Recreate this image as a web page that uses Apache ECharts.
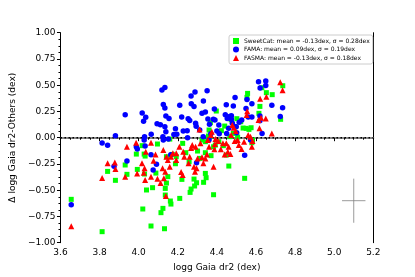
<!DOCTYPE html>
<html><head><meta charset="utf-8">
<script src="https://cdn.jsdelivr.net/npm/echarts@6/dist/echarts.min.js"></script>
<style>html,body{margin:0;padding:0;background:#fff}#c{width:415px;height:277px}</style>
</head><body><div id="c"></div>
<script>
const xTicks = [3.6, 3.8, 4.0, 4.2, 4.4, 4.6, 4.8, 5.0, 5.2];
const yTicks = [-1.0, -0.75, -0.5, -0.25, 0, 0.25, 0.5, 0.75, 1.0];
const seriesNames = ['SweetCat: mean = -0.13dex, \u03c3 = 0.28dex', 'FAMA: mean = 0.09dex, \u03c3 = 0.19dex', 'FASMA: mean = -0.13dex, \u03c3 = 0.18dex'];
const sweetcat = [[3.655,-0.587],[3.813,-0.895],[3.841,-0.321],[3.881,-0.406],[3.931,-0.260],[3.940,-0.349],[3.988,-0.156],[3.993,-0.302],[4.018,-0.076],[4.021,-0.679],[4.028,-0.156],[4.033,-0.175],[4.030,-0.346],[4.040,-0.498],[4.063,-0.841],[4.071,-0.476],[4.088,-0.337],[4.096,-0.060],[4.114,-0.714],[4.124,-0.673],[4.132,-0.867],[4.136,-0.483],[4.136,-0.546],[4.142,-0.432],[4.149,-0.371],[4.162,-0.603],[4.165,-0.632],[4.142,-0.181],[4.159,-0.013],[4.172,-0.159],[4.188,-0.248],[4.192,-0.181],[4.210,-0.578],[4.221,-0.397],[4.225,-0.054],[4.241,-0.143],[4.258,-0.229],[4.263,-0.521],[4.268,-0.489],[4.283,-0.394],[4.286,-0.460],[4.296,-0.429],[4.301,-0.127],[4.314,-0.197],[4.332,-0.425],[4.341,-0.340],[4.345,-0.381],[4.341,-0.143],[4.357,0.016],[4.360,0.073],[4.367,0.143],[4.370,-0.171],[4.383,-0.543],[4.392,-0.070],[4.397,0.254],[4.410,-0.038],[4.423,0.067],[4.440,0.111],[4.448,-0.165],[4.461,-0.270],[4.466,0.010],[4.473,0.171],[4.491,0.105],[4.502,0.181],[4.506,0.006],[4.542,-0.387],[4.550,0.089],[4.554,0.384],[4.557,0.422],[4.564,0.079],[4.575,0.095],[4.579,-0.048],[4.582,-0.022],[4.615,0.232],[4.620,0.298],[4.630,0.476],[4.653,0.429],[4.683,0.410],[4.726,0.175],[4.737,0.495],[4.324,-0.022],[4.341,-0.038],[4.364,0.010],[4.383,-0.086],[4.433,-0.076],[4.484,0.041],[4.534,0.092],[4.522,0.152]];
const fama = [[3.655,-0.638],[3.813,-0.051],[3.841,-0.073],[3.881,0.019],[3.874,-0.273],[3.931,0.219],[3.940,-0.222],[3.988,-0.086],[3.993,-0.108],[4.018,0.235],[4.025,0.156],[4.036,0.194],[4.030,0.010],[4.028,-0.022],[4.033,-0.079],[4.064,0.032],[4.063,-0.162],[4.074,-0.308],[4.091,-0.254],[4.094,0.133],[4.111,0.124],[4.119,0.454],[4.134,0.479],[4.126,0.317],[4.134,0.283],[4.124,0.010],[4.126,-0.022],[4.139,0.057],[4.139,0.206],[4.155,0.184],[4.134,0.105],[4.152,-0.013],[4.164,-0.162],[4.188,0.086],[4.195,0.032],[4.210,0.308],[4.220,0.197],[4.228,0.063],[4.248,0.067],[4.253,0.181],[4.261,0.165],[4.268,0.397],[4.269,0.324],[4.283,0.298],[4.288,0.435],[4.291,0.137],[4.296,-0.238],[4.294,0.108],[4.312,0.073],[4.324,0.232],[4.331,0.349],[4.341,0.244],[4.350,0.448],[4.354,0.178],[4.362,0.127],[4.369,0.038],[4.382,0.175],[4.387,0.273],[4.390,0.168],[4.400,0.063],[4.412,0.038],[4.443,0.219],[4.448,0.314],[4.453,0.184],[4.466,0.203],[4.474,0.210],[4.474,0.175],[4.479,0.137],[4.484,0.302],[4.489,0.105],[4.499,0.105],[4.493,0.384],[4.501,0.048],[4.514,0.146],[4.527,0.168],[4.542,-0.168],[4.549,0.279],[4.554,0.365],[4.560,0.197],[4.579,0.324],[4.579,0.197],[4.572,-0.022],[4.613,0.533],[4.621,0.473],[4.620,0.206],[4.620,0.162],[4.631,0.041],[4.650,0.540],[4.650,0.498],[4.681,0.308],[4.724,0.203],[4.736,0.286],[4.330,0.010],[4.450,0.040],[4.460,0.090],[4.410,0.120],[4.360,-0.020],[4.250,0.000],[4.180,0.030]];
const fasma = [[3.655,-0.844],[3.813,-0.384],[3.841,-0.244],[3.878,-0.235],[3.881,-0.298],[3.931,-0.371],[3.940,-0.086],[3.987,-0.048],[3.992,-0.340],[4.017,-0.244],[4.026,-0.333],[4.033,-0.403],[4.036,-0.133],[4.030,-0.292],[4.063,-0.048],[4.063,-0.371],[4.076,-0.219],[4.086,-0.159],[4.096,-0.390],[4.112,-0.432],[4.122,-0.292],[4.126,-0.117],[4.129,-0.387],[4.136,-0.324],[4.139,-0.556],[4.142,-0.181],[4.149,-0.213],[4.159,-0.276],[4.165,-0.181],[4.175,-0.149],[4.192,-0.149],[4.192,-0.213],[4.208,-0.086],[4.217,-0.327],[4.225,-0.356],[4.228,-0.133],[4.233,-0.181],[4.255,-0.244],[4.261,-0.181],[4.268,-0.098],[4.274,-0.070],[4.283,-0.276],[4.288,-0.324],[4.291,-0.086],[4.296,-0.292],[4.301,-0.197],[4.311,0.079],[4.316,-0.054],[4.324,-0.187],[4.331,-0.244],[4.341,-0.197],[4.349,-0.159],[4.354,-0.022],[4.360,-0.086],[4.369,0.025],[4.374,0.057],[4.383,-0.276],[4.387,-0.111],[4.390,-0.060],[4.393,-0.013],[4.407,-0.032],[4.420,-0.111],[4.431,-0.054],[4.440,-0.159],[4.448,-0.054],[4.456,-0.133],[4.460,-0.086],[4.469,-0.156],[4.473,0.025],[4.479,0.121],[4.486,0.095],[4.491,-0.032],[4.496,0.063],[4.506,-0.022],[4.512,-0.070],[4.526,-0.108],[4.539,-0.038],[4.552,0.216],[4.555,0.251],[4.560,0.025],[4.572,0.010],[4.579,-0.086],[4.582,-0.032],[4.613,0.168],[4.618,0.089],[4.621,0.371],[4.626,0.190],[4.650,0.184],[4.653,0.390],[4.681,0.041],[4.724,0.527],[4.736,0.451]];
const zeroLine = [[3.6, 0], [5.2, 0]];
const errCenter = [5.10, -0.60];
const errX = 0.06, errY = 0.21;

const fmt = (v, d) => { const s = Math.abs(v).toFixed(d); return (v < -1e-9 ? '\u2212' : '') + s; };
const F = 'DejaVu Sans';
const chart = echarts.init(document.getElementById('c'), null, {renderer: 'canvas'});
chart.setOption({
  animation: false,
  backgroundColor: '#fff',
  textStyle: {fontFamily: F},
  grid: {left: 50.7, right: 41.7, top: 32.7, bottom: 34.3, show: false},
  legend: {
    orient: 'vertical', left: 229, top: 35,
    data: [{name: seriesNames[0], icon: 'rect'}, {name: seriesNames[1], icon: 'circle'}, {name: seriesNames[2], icon: 'triangle'}],
    itemWidth: 6, itemHeight: 6, itemGap: 2.5,
    padding: [3, 3, 3, 4],
    borderColor: '#cccccc', borderWidth: 1, borderRadius: 2,
    backgroundColor: 'rgba(255,255,255,0.8)',
    textStyle: {fontSize: 6, fontFamily: F, color: '#000', padding: [0, 0, 0, 0]},
    selectedMode: false
  },
  xAxis: [{
    type: 'value', min: xTicks[0], max: xTicks[xTicks.length - 1], interval: 0.2,
    name: 'logg Gaia dr2 (dex)', nameLocation: 'middle', nameGap: 20,
    nameTextStyle: {fontSize: 9, color: '#000', fontFamily: F},
    axisLine: {lineStyle: {color: '#000', width: 1}},
    axisTick: {length: 3.5, lineStyle: {color: '#000'}},
    minorTick: {show: true, splitNumber: 4, length: 2, lineStyle: {color: '#000'}},
    axisLabel: {fontSize: 9, color: '#000', margin: 5, formatter: v => fmt(v, 1)},
    splitLine: {show: false}
  }, {
    type: 'value', position: 'top', min: 3.6, max: 5.2,
    axisLine: {show: true, lineStyle: {color: '#888', width: 2}},
    axisTick: {show: false}, axisLabel: {show: false}, splitLine: {show: false}
  }],
  yAxis: [{
    type: 'value', min: yTicks[0], max: yTicks[yTicks.length - 1], interval: 0.25,
    name: '\u0394 logg Gaia dr2-Others (dex)', nameLocation: 'middle', nameGap: 37,
    nameTextStyle: {fontSize: 9, color: '#000', fontFamily: F},
    axisLine: {lineStyle: {color: '#000', width: 1}},
    axisTick: {length: 3.5, lineStyle: {color: '#000'}},
    minorTick: {show: true, splitNumber: 4, length: 2, lineStyle: {color: '#000'}},
    axisLabel: {fontSize: 9, color: '#000', margin: 5, formatter: v => fmt(v, 2)},
    splitLine: {show: false}
  }, {
    type: 'value', position: 'right', min: -1, max: 1,
    axisLine: {show: true, lineStyle: {color: '#000', width: 1}},
    axisTick: {show: false}, axisLabel: {show: false}, splitLine: {show: false}
  }],
  series: [
    {name: 'zero', type: 'line', data: zeroLine, showSymbol: false, silent: true, z: 1,
     lineStyle: {color: '#000', width: 1.5, type: [1.5, 2.5]}},
    {name: 'errh', type: 'line', data: [[errCenter[0] - errX, errCenter[1]], [errCenter[0] + errX, errCenter[1]]], showSymbol: false, silent: true,
     lineStyle: {color: '#808080', width: 0.8}},
    {name: 'errv', type: 'line', data: [[errCenter[0], errCenter[1] - errY], [errCenter[0], errCenter[1] + errY]], showSymbol: false, silent: true,
     lineStyle: {color: '#808080', width: 0.8}},
    {name: seriesNames[0], type: 'scatter', data: sweetcat, symbol: 'rect', symbolSize: 5, itemStyle: {color: '#00ff00', opacity: 1}, z: 2},
    {name: seriesNames[1], type: 'scatter', data: fama, symbol: 'circle', symbolSize: 5.5, itemStyle: {color: '#0000ff', opacity: 1}, z: 3},
    {name: seriesNames[2], type: 'scatter', data: fasma, symbol: 'triangle', symbolSize: 6, itemStyle: {color: '#ff0000', opacity: 1}, z: 4}
  ]
});
</script></body></html>
